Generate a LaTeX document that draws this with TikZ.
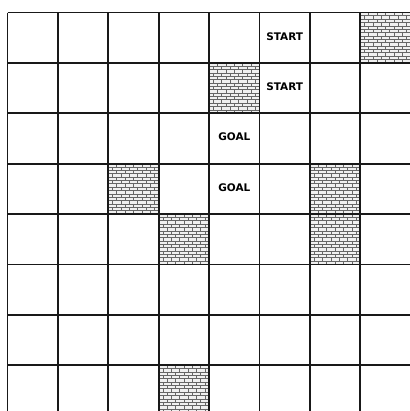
\documentclass[tikz,border=0pt]{standalone}
\usepackage{fontspec}
\setmainfont{DejaVu Sans}
\begin{document}
\begin{tikzpicture}[x=1bp,y=-1bp,
  gridline/.style={line width=1.7bp,black!90},
  mortar/.style={line width=0.75bp,black!60},
  celltext/.style={font=\bfseries\fontsize{10.5}{12}\selectfont,inner sep=0pt}]
\useasboundingbox (0,0) rectangle (410,411);
\def\cs{50.4}
\def\xo{7.5}
\def\yo{12.5}
\begin{scope}
\clip (0,0) rectangle (410,411);
% brick cells
\foreach \c/\r in {7/0,4/1,2/3,6/3,3/4,6/4,3/7}{
  \begin{scope}
    \clip ({\xo+\c*\cs},{\yo+\r*\cs}) rectangle ++(\cs,\cs);
    \fill[black!6] ({\xo+\c*\cs},{\yo+\r*\cs}) rectangle ++(\cs,\cs);
    \foreach \k in {0,...,15}{
      \draw[mortar] ({\xo+\c*\cs},{\yo+\r*\cs+\k*3.36}) -- ++(\cs,0);
    }
    \foreach \k in {0,...,14}{
      \foreach \m in {0,...,6}{
        \draw[mortar] ({\xo+\c*\cs+\m*8.4+mod(\k,2)*4.2},{\yo+\r*\cs+\k*3.36}) -- ++(0,3.36);
      }
    }
  \end{scope}
}
% grid
\foreach \i in {0,...,7}{
  \draw[gridline] ({\xo+\i*\cs},\yo) -- ({\xo+\i*\cs},411);
  \draw[gridline] (\xo,{\yo+\i*\cs}) -- (410,{\yo+\i*\cs});
}
\end{scope}
% labels
\node[celltext] (start1) at ({\xo+5.5*\cs},{\yo+0.5*\cs-1.5}) {START};
\node[celltext] (start2) at ({\xo+5.5*\cs},{\yo+1.5*\cs-1.5}) {START};
\node[celltext] (goal1) at ({\xo+4.5*\cs},{\yo+2.5*\cs-1.5}) {GOAL};
\node[celltext] (goal2) at ({\xo+4.5*\cs},{\yo+3.5*\cs-1.5}) {GOAL};
\end{tikzpicture}
\end{document}
